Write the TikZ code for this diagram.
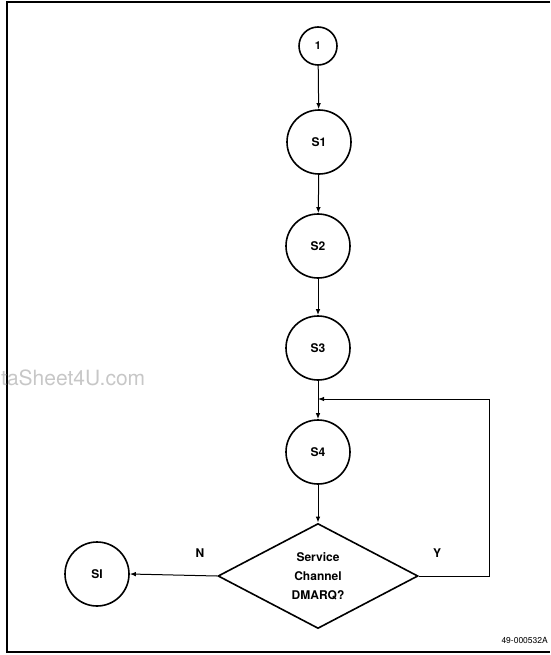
\documentclass[tikz,border=0pt]{standalone}
\usepackage{fontspec}
\setmainfont{TeX Gyre Heros}
\usetikzlibrary{shapes.geometric,arrows.meta}
\begin{document}
\begin{tikzpicture}[x=1pt,y=-1pt,
  state/.style={circle,draw,line width=1.6pt,minimum size=64pt,inner sep=0pt,font=\bfseries\fontsize{12}{14}\selectfont},
  conn/.style={line width=1pt,-{Latex[length=6pt,width=4.5pt]}},
  lbl/.style={font=\bfseries\fontsize{12}{14}\selectfont}]
\useasboundingbox (0,0) rectangle (550,655);
% frame
\draw[line width=1.4pt] (550,2) -- (7,2) -- (7,652) -- (550,652);
% watermark
\node[anchor=west,text=black!22,font=\fontsize{21}{23}\selectfont,inner sep=0pt] (wm) at (1,378) {taSheet4U.com};
% nodes
\node[state,minimum size=38pt,font=\bfseries\fontsize{11}{13}\selectfont] (one) at (318,46) {1};
\node[state] (s1) at (319,142) {S1};
\node[state] (s2) at (318,246) {S2};
\node[state] (s3) at (318,348) {S3};
\node[state] (s4) at (318,452) {S4};
\node[diamond,draw,line width=1.6pt,minimum width=200pt,minimum height=105pt,inner sep=0pt,align=center,font=\bfseries\fontsize{12}{19}\selectfont] (dec) at (318,576) {Service\\Channel\\DMARQ?};
\node[state] (si) at (97,574) {SI};
\coordinate (j) at (318,399);
\coordinate (r1) at (489,576);
\coordinate (r2) at (489,399);
% connectors
\draw[conn] (one) -- (s1);
\draw[conn] (s1) -- (s2);
\draw[conn] (s2) -- (s3);
\draw[line width=1pt] (s3) -- (j);
\draw[conn] (j) -- (s4);
\draw[conn] (s4) -- (dec.north);
\draw[conn] (dec.west) -- (si.east);
\draw[conn] (dec.east) -- (r1) -- (r2) -- (j);
% labels
\node[lbl] (n) at (200,553) {N};
\node[lbl] (y) at (437,553) {Y};
\node[anchor=east,font=\fontsize{8.5}{10}\selectfont,inner sep=0pt] (code) at (548,640) {49-000532A};
\end{tikzpicture}
\end{document}
